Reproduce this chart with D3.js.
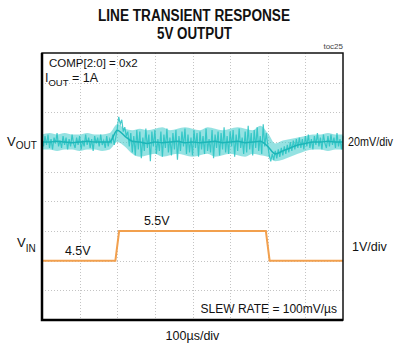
<!DOCTYPE html>
<html>
<head>
<meta charset="utf-8">
<script src="https://cdn.jsdelivr.net/npm/d3@7"></script>
<style>
  html, body { margin: 0; padding: 0; background: #fff; }
  svg { display: block; }
  text { font-family: "Liberation Sans", Arial, sans-serif; fill: #111; }
</style>
</head>
<body>
<svg id="chart" width="398" height="348"></svg>
<script>
// ---- scope settings ----
const timeDivs = 8;            // horizontal divisions
const timePerDiv = 100;        // µs per division
const vertDivs = 9;            // vertical divisions
const voutPerDiv = 20;         // mV per division
const vinPerDiv = 1;           // V per division
const voutCenterDiv = 6;       // division where VOUT = 5V nominal (0 mV deviation)
const vinOffsetV = 2.5;        // VIN volts sitting at division 0

// ---- VIN trace (V) ----
const vinTime = [0, 195, 205, 595, 605, 800];
const vinVolts = [4.5, 4.5, 5.5, 5.5, 4.5, 4.5];

// ---- VOUT raw noisy trace, deviation from 5V in mV, one sample every 4 µs ----
const voutStep = 4;
const voutNoise = [
  1,-3,4,-2,5,-4,2,-5,3,-1,6,-3,1,-4,4,-2,3,-5,2,-3,
  5,-1,-4,3,-2,4,-5,1,-3,5,-2,3,-4,2,-6,4,-1,3,-3,5,
  -2,1,-4,4,-3,2,-1,5,-2,
  3,9,17,12,15,7,10,4,7,-3,
  6,-7,4,-9,8,-5,7,-11,3,-6,9,-4,5,-13,7,-3,8,-8,2,-6,
  7,-10,5,-4,9,-7,3,-9,6,-5,8,-12,4,-6,7,-3,9,-8,5,-7,
  3,-9,8,-4,6,-10,7,-5,4,-8,9,-6,2,-7,8,-11,5,-4,7,-9,
  6,-5,10,-7,4,-8,7,-3,8,-10,5,-6,9,-4,3,-8,7,-7,11,-5,
  6,-9,8,-4,10,-6,4,-8,12,-3,
  6,-2,-9,-13,-8,-12,-6,-11,-5,-10,-4,-9,-3,-8,-2,-7,0,-6,1,-5,
  2,-4,3,-4,2,-5,4,
  -3,5,-4,2,-5,4,-2,6,-3,3,-5,5,-1,-4,4,-3,5,-2,3,-4,
  6,-3,2,-5,4
];

// ---- VOUT noise envelope and average, mV, one sample every 20 µs ----
const voutEnvStep = 20;
const voutEnvHigh = [
  5,6,5,6,5,5,6,5,5,6,
  12,9,8,9,8,9,10,8,9,10,
  9,8,10,9,8,9,10,9,8,11,
  6,-1,1,2,3,4,5,5,6,5,5
];
const voutEnvLow = [
  -5,-5,-6,-5,-5,-6,-5,-5,-6,-5,
  0,-3,-8,-10,-9,-8,-10,-9,-8,-9,
  -10,-9,-8,-10,-9,-8,-9,-10,-8,-9,
  -10,-13,-12,-10,-8,-6,-5,-5,-6,-5,-5
];
const voutMean = [
  0,0,0.5,0,-0.5,0,0.5,0,0,0,
  8,4,0.5,0,-1,0,-0.5,0,0.5,-0.5,
  0,-0.5,0,0.5,-0.5,0,0.5,-0.5,0,0.5,
  -3,-8,-6,-4,-2,-1,0,0,0.5,0,0
];

// ---- text ----
const titleLines = ["LINE TRANSIENT RESPONSE", "5V OUTPUT"];
const figTag = "toc25";
const timeLabel = "100µs/div";
const voutScaleLabel = "20mV/div";
const vinScaleLabel = "1V/div";
const vinLevelLabels = [{ t: 95, v: 4.5, text: "4.5V" }, { t: 305, v: 5.5, text: "5.5V" }];
const slewLabel = "SLEW RATE = 100mV/µs";
const compLabel = "COMP[2:0] = 0x2";

// ---- layout ----
const plot = { left: 42, right: 343, top: 53, bottom: 320 };
const svg = d3.select("#chart");

const x = d3.scaleLinear().domain([0, timeDivs * timePerDiv]).range([plot.left, plot.right]);
const yDiv = d3.scaleLinear().domain([0, vertDivs]).range([plot.bottom, plot.top]);
const yOut = d3.scaleLinear()
  .domain([-voutCenterDiv * voutPerDiv, (vertDivs - voutCenterDiv) * voutPerDiv])
  .range([plot.bottom, plot.top]);
const yIn = d3.scaleLinear()
  .domain([vinOffsetV, vinOffsetV + vertDivs * vinPerDiv])
  .range([plot.bottom, plot.top]);

// ---- graticule ----
const grid = svg.append("g").attr("stroke", "#c4c4c4").attr("stroke-width", 1)
  .attr("stroke-dasharray", "1,2");
d3.range(1, timeDivs).forEach(i => {
  const gx = Math.round(x(i * timePerDiv)) + 0.5;
  grid.append("line").attr("x1", gx).attr("x2", gx).attr("y1", plot.top).attr("y2", plot.bottom);
});
d3.range(1, vertDivs).forEach(i => {
  const gy = Math.round(yDiv(i)) + 0.5;
  grid.append("line").attr("x1", plot.left).attr("x2", plot.right).attr("y1", gy).attr("y2", gy);
});

// ---- VOUT trace: noise band, raw samples, average ----
const band = d3.area()
  .x((d, i) => x(i * voutEnvStep))
  .y0((d, i) => yOut(voutEnvLow[i]))
  .y1(d => yOut(d))
  .curve(d3.curveMonotoneX);
svg.append("path")
  .datum(voutEnvHigh)
  .attr("fill", "#4fcece")
  .attr("fill-opacity", 0.6)
  .attr("d", band);

const noiseLine = d3.line()
  .x((d, i) => x(i * voutStep))
  .y(d => yOut(d));
svg.append("path")
  .datum(voutNoise)
  .attr("fill", "none")
  .attr("stroke", "#26c2c2")
  .attr("stroke-width", 1.2)
  .attr("stroke-opacity", 0.85)
  .attr("d", noiseLine);

const meanLine = d3.line()
  .x((d, i) => x(i * voutEnvStep))
  .y(d => yOut(d))
  .curve(d3.curveMonotoneX);
svg.append("path")
  .datum(voutMean)
  .attr("fill", "none")
  .attr("stroke", "#1cb6b8")
  .attr("stroke-width", 1.5)
  .attr("d", meanLine);

// ---- VIN trace ----
const vinLine = d3.line()
  .x(d => x(d[0]))
  .y(d => yIn(d[1]));
svg.append("path")
  .datum(vinTime.map((t, i) => [t, vinVolts[i]]))
  .attr("fill", "none")
  .attr("stroke", "#f2a04e")
  .attr("stroke-width", 2)
  .attr("d", vinLine);

// ---- frame ----
svg.append("rect")
  .attr("x", plot.left).attr("y", plot.top)
  .attr("width", plot.right - plot.left).attr("height", plot.bottom - plot.top)
  .attr("fill", "none").attr("stroke", "#111").attr("stroke-width", 1.5);
svg.append("path")
  .attr("d", `M${plot.left},${plot.top}V${plot.bottom}H${plot.right}`)
  .attr("fill", "none").attr("stroke", "#000").attr("stroke-width", 2.5);

// ---- title ----
svg.append("text")
  .attr("x", 194).attr("y", 21).attr("text-anchor", "middle")
  .attr("font-family", "'Liberation Sans Narrow', 'Liberation Sans', Arial, sans-serif")
  .attr("font-weight", "bold").attr("font-size", 16)
  .attr("textLength", 192).attr("lengthAdjust", "spacingAndGlyphs")
  .text(titleLines[0]);
svg.append("text")
  .attr("x", 194.5).attr("y", 39).attr("text-anchor", "middle")
  .attr("font-family", "'Liberation Sans Narrow', 'Liberation Sans', Arial, sans-serif")
  .attr("font-weight", "bold").attr("font-size", 16)
  .attr("textLength", 75).attr("lengthAdjust", "spacingAndGlyphs")
  .text(titleLines[1]);

svg.append("text")
  .attr("x", plot.right).attr("y", 49).attr("text-anchor", "end")
  .attr("font-size", 8).style("fill", "#444")
  .text(figTag);

// ---- in-plot annotations ----
svg.append("text").attr("x", 49).attr("y", 67).attr("font-size", 11.5).text(compLabel);

const iout = svg.append("text").attr("x", 45).attr("y", 82).attr("font-size", 12.5);
iout.append("tspan").text("I");
iout.append("tspan").attr("font-size", 9.5).attr("dy", 3.5).text("OUT");
iout.append("tspan").attr("dy", -3.5).text(" = 1A");

svg.append("text")
  .attr("x", 337).attr("y", 312.5).attr("text-anchor", "end")
  .attr("font-size", 12).text(slewLabel);

vinLevelLabels.forEach(l => {
  svg.append("text")
    .attr("x", x(l.t)).attr("y", yIn(l.v) - 6)
    .attr("text-anchor", "middle").attr("font-size", 12.5)
    .text(l.text);
});

// ---- channel labels ----
const voutLbl = svg.append("text").attr("x", 7).attr("y", yOut(0) + 3.5).attr("font-size", 13);
voutLbl.append("tspan").text("V");
voutLbl.append("tspan").attr("font-size", 10).attr("dy", 3).text("OUT");

const vinLbl = svg.append("text").attr("x", 17).attr("y", 247).attr("font-size", 13);
vinLbl.append("tspan").text("V");
vinLbl.append("tspan").attr("font-size", 10).attr("dy", 5).text("IN");

svg.append("text").attr("x", 348).attr("y", yOut(0) + 4).attr("font-size", 12)
  .attr("textLength", 45).attr("lengthAdjust", "spacingAndGlyphs")
  .text(voutScaleLabel);
svg.append("text").attr("x", 352).attr("y", 251).attr("font-size", 12.5).text(vinScaleLabel);

svg.append("text")
  .attr("x", (plot.left + plot.right) / 2).attr("y", 340)
  .attr("text-anchor", "middle").attr("font-size", 12.5)
  .text(timeLabel);
</script>
</body>
</html>
